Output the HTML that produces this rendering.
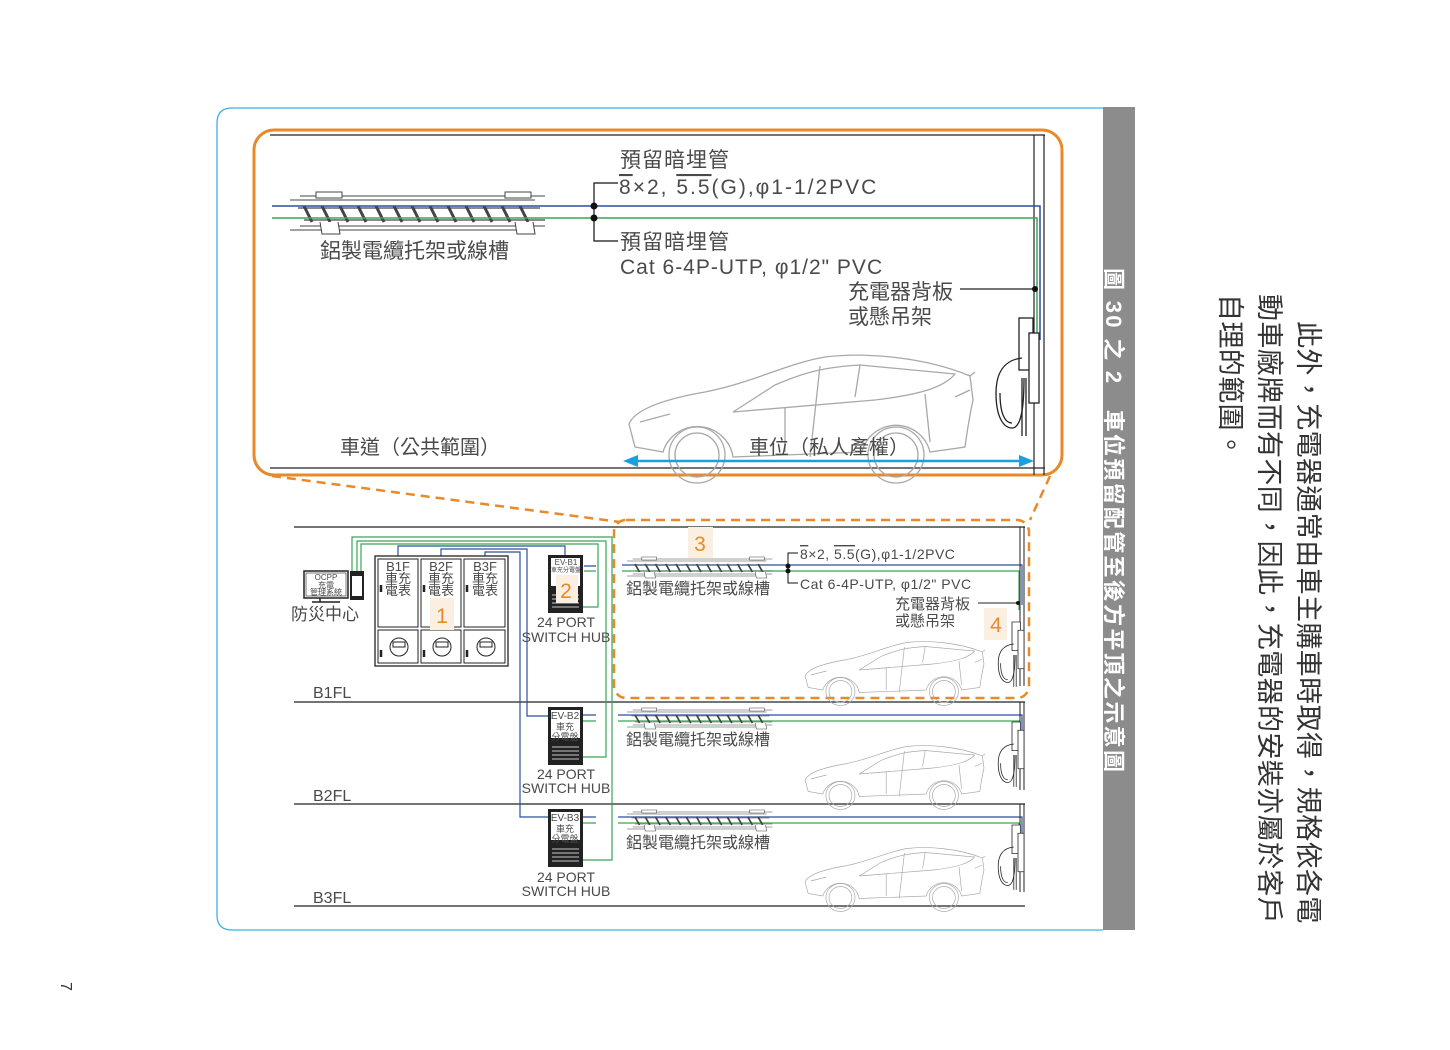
<!DOCTYPE html>
<html><head><meta charset="utf-8"><style>
html,body{margin:0;padding:0;background:#fff;}
body{width:1450px;height:1050px;position:relative;overflow:hidden;font-family:"Liberation Sans","Noto Sans CJK TC",sans-serif;}
svg{position:absolute;left:0;top:0;}
svg text{font-family:"Liberation Sans","Noto Sans CJK TC",sans-serif;fill:#4a4a4a;}
.rot{position:absolute;transform:rotate(90deg);transform-origin:0 0;white-space:nowrap;font-family:"Liberation Sans","Noto Sans CJK TC",sans-serif;}
</style></head><body>
<svg width="1450" height="1050" viewBox="0 0 1450 1050" xmlns="http://www.w3.org/2000/svg">
<defs>
<g id="car" fill="none" stroke="#a8a8a8" stroke-width="1.3">
  <path d="M10,95 L4,72 C10,57 40,47 80,40 C130,30 160,12 200,5 C240,0 300,5 345,24 L348,48 C345,62 342,80 340,95 L305,100 A35,35 0 0 0 237,100 L108,105 A36,36 0 0 0 38,100 Z"/>
  <path d="M108,60 L150,33 C180,20 200,15 235,13 L330,22 C320,34 300,42 250,48 Z"/>
  <path d="M195,14 L185,105 M160,55 L160,100 M235,13 L230,45 M300,42 L305,90"/>
  <circle cx="72" cy="103" r="28"/><circle cx="72" cy="103" r="22"/>
  <circle cx="271" cy="103" r="28"/><circle cx="271" cy="103" r="22"/>
  <path d="M15,70 L45,62 M330,45 L345,38 M345,24 L350,20"/>
</g>
<g id="chg" fill="none" stroke="#222" stroke-width="1.3">
  <rect x="25" y="0" width="14" height="52" fill="#fff"/>
  <rect x="35" y="15" width="10" height="70" fill="#fff"/>
  <path d="M28,40 C10,42 2,55 2,75 C2,100 10,110 18,110 C26,110 30,95 30,60"/>
  <path d="M6,75 C6,98 12,105 18,105"/>
  <path d="M28,60 L28,118 M32,60 L32,118"/>
</g>
<g id="tray" stroke="#444" fill="none">
  <path d="M10,0 H255 M0,4 H245 M10,30 H255 M0,34 H245" stroke-width="1"/>
  <path d="M8,12 H250 M14,24 H255" stroke-width="1.2"/>
  <g stroke-width="3">
    <path d="M14,10 l8,16 M32,10 l8,16 M50,10 l8,16 M68,10 l8,16 M86,10 l8,16 M104,10 l8,16 M122,10 l8,16 M140,10 l8,16 M158,10 l8,16 M176,10 l8,16 M194,10 l8,16 M212,10 l8,16 M230,10 l8,16"/>
  </g>
  <rect x="26" y="-4" width="26" height="6" fill="#fff" stroke-width="1"/>
  <rect x="215" y="-4" width="26" height="6" fill="#fff" stroke-width="1"/>
  <path d="M30,26 L32,38 H50 L48,26 M225,26 L227,38 H245 L243,26" stroke-width="1" fill="#fff"/>
</g>
<g id="panel">
  <rect x="0" y="0" width="35" height="58" fill="#222"/>
  <rect x="3" y="3" width="29" height="28" fill="#fff"/>
  <path d="M4,40 H31 M4,44 H31 M4,48 H31 M4,52 H31" stroke="#fff" stroke-width="0.8"/>
</g>
</defs>

<path d="M1103,108 H232 Q217,108 217,123 V915 Q217,930 232,930 H1103" fill="none" stroke="#3bb0e5" stroke-width="1.3"/>
<rect x="1103" y="107" width="32" height="823" fill="#8c8c8c"/>

<rect x="254" y="130" width="808" height="345" rx="20" fill="none" stroke="#e8892a" stroke-width="3"/>
<path d="M270,135 H1045 M270,468 H1045" stroke="#222" stroke-width="1.2"/>
<path d="M1034,135 V475 M1044,135 V475" stroke="#222" stroke-width="1.2"/>
<use href="#tray" x="290" y="196"/>
<path d="M272,206 H1040 V340" stroke="#2a4fa0" stroke-width="1.5" fill="none"/>
<path d="M272,218 H1037 V345" stroke="#3aa55a" stroke-width="1.5" fill="none"/>
<circle cx="594" cy="206" r="3.5" fill="#111"/><circle cx="594" cy="218" r="3.5" fill="#111"/>
<path d="M618,183 H594 V241 H618" stroke="#111" fill="none" stroke-width="1.2"/>
<text x="620" y="167" font-size="21" letter-spacing="1">預留暗埋管</text>
<text x="619" y="194" font-size="21" letter-spacing="2"><tspan text-decoration="overline">8</tspan>×2, <tspan text-decoration="overline">5.5</tspan>(G),φ1-1/2PVC</text>
<text x="620" y="249" font-size="21" letter-spacing="1">預留暗埋管</text>
<text x="620" y="274" font-size="21" letter-spacing="1">Cat 6-4P-UTP, φ1/2" PVC</text>
<text x="848" y="299" font-size="21">充電器背板</text>
<text x="848" y="324" font-size="21">或懸吊架</text>
<path d="M960,289 H1035" stroke="#222" stroke-width="1.2"/><circle cx="1035" cy="289" r="3" fill="#111"/>
<text x="320" y="258" font-size="21">鋁製電纜托架或線槽</text>
<use href="#car" transform="translate(625,352)"/>
<use href="#chg" transform="translate(994,318)"/>
<text x="340" y="454" font-size="20">車道（公共範圍）</text>
<text x="749" y="454" font-size="20">車位（私人產權）</text>
<path d="M636,461 H1022" stroke="#1aa0e0" stroke-width="2.5"/>
<path d="M623,461 L638,455 L638,467 Z M1034,461 L1019,455 L1019,467 Z" fill="#1aa0e0"/>

<path d="M272,476 L620,522" stroke="#e8892a" stroke-width="2.5" stroke-dasharray="9,6" fill="none"/>
<path d="M1050,476 L1030,520" stroke="#e8892a" stroke-width="2.5" stroke-dasharray="9,6" fill="none"/>
<rect x="614" y="520" width="415" height="178" rx="12" fill="none" stroke="#e8892a" stroke-width="2.5" stroke-dasharray="9,6"/>

<path d="M294,527 H1025 M294,702 H1025 M294,804 H1025 M294,906 H1025" stroke="#222" stroke-width="1.2"/>
<text x="313" y="698" font-size="16">B1FL</text>
<text x="313" y="801" font-size="16">B2FL</text>
<text x="313" y="903" font-size="16">B3FL</text>

<g fill="none" stroke-width="1.2">
<path d="M352,573 V537 H612 V860 H568" stroke="#3aa55a"/>
<path d="M357,573 V541 H606 V757 H568" stroke="#3aa55a"/>
<path d="M361,573 V544 H598 V607 H568" stroke="#3aa55a"/>
<path d="M398,557 V546 H565 V555" stroke="#2a4fa0"/>
<path d="M441,557 V549 H527 V716 H548" stroke="#2a4fa0"/>
<path d="M485,557 V552 H520 V817 H548" stroke="#2a4fa0"/>
<path d="M584,566 H596 M622,565 H1022 V605" stroke="#2a4fa0"/>
<path d="M584,571 H596 M622,571 H1019 V610" stroke="#3aa55a"/>
<path d="M582,715 H596 M618,715 H1022 V740" stroke="#2a4fa0"/>
<path d="M582,721 H596 M618,721 H1019 V745" stroke="#3aa55a"/>
<path d="M582,817 H596 M618,817 H1022 V842" stroke="#2a4fa0"/>
<path d="M582,823 H596 M618,823 H1019 V847" stroke="#3aa55a"/>
</g>

<rect x="304" y="571" width="44" height="27" fill="#fff" stroke="#222" stroke-width="1.5"/>
<rect x="306" y="573" width="40" height="23" fill="none" stroke="#222" stroke-width="0.6"/>
<path d="M320,598 V602 M312,602 H340" stroke="#222" stroke-width="1.5"/>
<text x="326" y="580" font-size="8" text-anchor="middle">OCPP</text>
<text x="326" y="588" font-size="8" text-anchor="middle">充電</text>
<text x="326" y="595" font-size="8" text-anchor="middle">管理系統</text>
<rect x="350" y="571" width="14" height="29" fill="#222"/>
<rect x="352" y="576" width="10" height="20" fill="#fff"/>
<text x="291" y="620" font-size="17">防災中心</text>

<rect x="375" y="556" width="133" height="110" fill="#fff" stroke="#222" stroke-width="1.3"/>
<g fill="none" stroke="#222" stroke-width="1">
<rect x="378" y="559" width="40" height="68"/><rect x="421" y="559" width="40" height="68"/><rect x="464" y="559" width="41" height="68"/>
<rect x="378" y="630" width="40" height="33"/><rect x="421" y="630" width="40" height="33"/><rect x="464" y="630" width="41" height="33"/>
<circle cx="399" cy="647" r="9"/><circle cx="442" cy="647" r="9"/><circle cx="486" cy="647" r="9"/>
<rect x="393" y="642" width="12" height="5"/><rect x="436" y="642" width="12" height="5"/><rect x="480" y="642" width="12" height="5"/>
</g>
<path d="M381,585 V592 M424,585 V592 M467,585 V592 M381,650 V657 M424,650 V657 M467,650 V657" stroke="#222" stroke-width="2.5"/>
<g font-size="13" text-anchor="middle">
<text x="398" y="571">B1F</text><text x="398" y="583">車充</text><text x="398" y="595">電表</text>
<text x="441" y="571">B2F</text><text x="441" y="583">車充</text><text x="441" y="595">電表</text>
<text x="485" y="571">B3F</text><text x="485" y="583">車充</text><text x="485" y="595">電表</text>
</g>
<rect x="430" y="598" width="24" height="32" fill="#fbefe1"/>
<text x="442" y="623" font-size="21" style="fill:#e8892a" text-anchor="middle">1</text>

<use href="#panel" x="548" y="555"/>
<text x="566" y="565" font-size="8" text-anchor="middle">EV-B1</text>
<text x="566" y="572" font-size="6" text-anchor="middle">車充分電盤</text>
<rect x="556" y="575" width="22" height="28" fill="#fbefe1"/>
<text x="566" y="598" font-size="21" style="fill:#e8892a" text-anchor="middle">2</text>
<text x="566" y="627" font-size="14" text-anchor="middle">24 PORT</text>
<text x="566" y="642" font-size="14" text-anchor="middle">SWITCH HUB</text>

<use href="#panel" x="548" y="707"/>
<text x="565" y="719" font-size="10" text-anchor="middle">EV-B2</text>
<text x="565" y="730" font-size="9" text-anchor="middle">車充</text>
<text x="565" y="740" font-size="9" text-anchor="middle">分電盤</text>
<text x="566" y="779" font-size="14" text-anchor="middle">24 PORT</text>
<text x="566" y="793" font-size="14" text-anchor="middle">SWITCH HUB</text>

<use href="#panel" x="548" y="809"/>
<text x="565" y="821" font-size="10" text-anchor="middle">EV-B3</text>
<text x="565" y="832" font-size="9" text-anchor="middle">車充</text>
<text x="565" y="842" font-size="9" text-anchor="middle">分電盤</text>
<text x="566" y="882" font-size="14" text-anchor="middle">24 PORT</text>
<text x="566" y="896" font-size="14" text-anchor="middle">SWITCH HUB</text>

<use href="#tray" transform="translate(627,559) scale(0.57,0.5)"/>
<use href="#tray" transform="translate(627,710) scale(0.57,0.5)"/>
<use href="#tray" transform="translate(627,812) scale(0.57,0.5)"/>
<text x="626" y="594" font-size="16">鋁製電纜托架或線槽</text>
<text x="626" y="745" font-size="16">鋁製電纜托架或線槽</text>
<text x="626" y="848" font-size="16">鋁製電纜托架或線槽</text>
<rect x="688" y="527" width="25" height="31" fill="#fbefe1"/>
<text x="700" y="551" font-size="21" style="fill:#e8892a" text-anchor="middle">3</text>
<circle cx="788" cy="566" r="2.5" fill="#111"/><circle cx="788" cy="571" r="2.5" fill="#111"/>
<path d="M798,553 H788 V583 H798" stroke="#111" fill="none" stroke-width="1"/>
<text x="800" y="559" font-size="14" letter-spacing="0.5"><tspan text-decoration="overline">8</tspan>×2, <tspan text-decoration="overline">5.5</tspan>(G),φ1-1/2PVC</text>
<text x="800" y="589" font-size="14" letter-spacing="0.5">Cat 6-4P-UTP, φ1/2" PVC</text>
<text x="895" y="609" font-size="15">充電器背板</text>
<text x="895" y="626" font-size="15">或懸吊架</text>
<path d="M978,603 H1018" stroke="#222"/><circle cx="1018" cy="603" r="2" fill="#111"/>
<rect x="984" y="608" width="23" height="32" fill="#fbefe1"/>
<text x="996" y="632" font-size="21" style="fill:#e8892a" text-anchor="middle">4</text>

<path d="M1020,527 V686 M1024,527 V686 M1020,702 V790 M1024,702 V790 M1020,804 V892 M1024,804 V892" stroke="#222" stroke-width="1"/>
<use href="#car" transform="translate(803,640) scale(0.52,0.5)"/>
<use href="#car" transform="translate(803,744) scale(0.52,0.5)"/>
<use href="#car" transform="translate(803,846) scale(0.52,0.5)"/>
<use href="#chg" transform="translate(997,622) scale(0.6,0.55)"/>
<use href="#chg" transform="translate(997,722) scale(0.6,0.55)"/>
<use href="#chg" transform="translate(997,825) scale(0.6,0.55)"/>
</svg>

<div class="rot" style="left:1131px;top:268px;font-size:22px;font-weight:bold;color:#fff;letter-spacing:2.3px;">圖 30 之 2　車位預留配管至後方平頂之示意圖</div>
<div class="rot" style="left:1327px;top:294px;font-size:27px;line-height:39px;color:#333;letter-spacing:0.4px;">
<div style="padding-left:27px">此外，充電器通常由車主購車時取得，規格依各電</div>
<div>動車廠牌而有不同，因此，充電器的安裝亦屬於客戶</div>
<div>自理的範圍。</div>
</div>
<div class="rot" style="left:74px;top:982px;font-size:16px;color:#333;">7</div>
</body></html>
